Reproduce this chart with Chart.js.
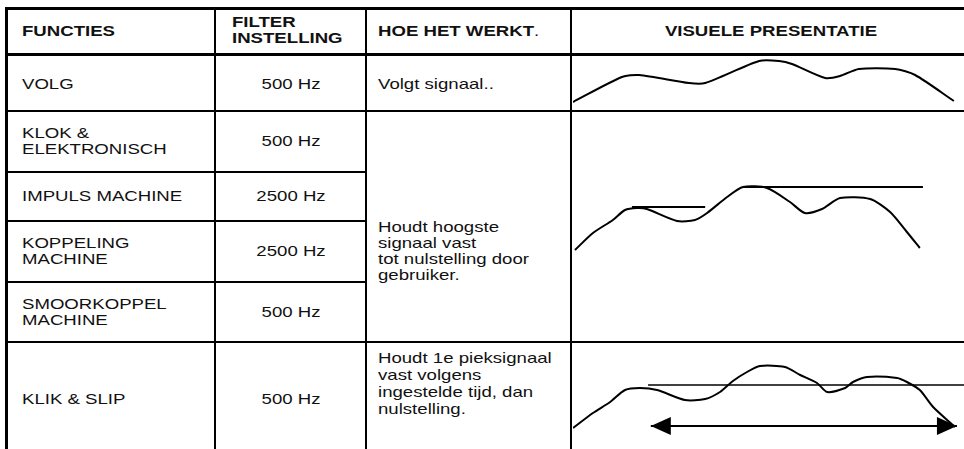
<!DOCTYPE html>
<html>
<head>
<meta charset="utf-8">
<script src="https://cdn.jsdelivr.net/npm/chart.js@4.4.0/dist/chart.umd.min.js"></script>
<style>
  html, body { margin: 0; padding: 0; background: #fff; }
  #page { position: relative; width: 964px; height: 449px; overflow: hidden; font-family: "Liberation Sans", Arial, sans-serif; color: #111; }
  .ln { position: absolute; background: #000; }
  .t { position: absolute; white-space: pre; font-size: 15px; line-height: 16px; transform-origin: left top; transform: translateY(-50%) scaleX(1.24); }
  .t.c { transform-origin: center center; transform: translate(-50%, -50%) scaleX(1.24); text-align: center; }
  .t.b { font-weight: bold; }
  canvas { position: absolute; }
</style>
</head>
<body>
<div id="page">
  <!-- grid -->
  <div class="ln" style="left:5px;top:7px;width:959px;height:3px"></div>
  <div class="ln" style="left:5px;top:53px;width:959px;height:3px"></div>
  <div class="ln" style="left:5px;top:7px;width:3px;height:442px"></div>
  <div class="ln" style="left:214px;top:7px;width:2px;height:442px"></div>
  <div class="ln" style="left:365px;top:7px;width:2px;height:442px"></div>
  <div class="ln" style="left:570px;top:7px;width:2px;height:442px"></div>
  <div class="ln" style="left:5px;top:110px;width:959px;height:2px"></div>
  <div class="ln" style="left:5px;top:171px;width:362px;height:2px"></div>
  <div class="ln" style="left:5px;top:220px;width:362px;height:2px"></div>
  <div class="ln" style="left:5px;top:281px;width:362px;height:2px"></div>
  <div class="ln" style="left:5px;top:341px;width:959px;height:2px"></div>

  <!-- header -->
  <div class="t b" style="left:22px;top:31px">FUNCTIES</div>
  <div class="t b" style="left:232px;top:30px">FILTER
INSTELLING</div>
  <div class="t b" style="left:378px;top:31px">HOE HET WERKT<span style="font-weight:normal">.</span></div>
  <div class="t b c" style="left:771px;top:31px">VISUELE PRESENTATIE</div>

  <!-- rows -->
  <div class="t" style="left:22px;top:84px">VOLG</div>
  <div class="t c" style="left:291px;top:84px">500 Hz</div>
  <div class="t" style="left:378px;top:84px">Volgt signaal..</div>

  <div class="t" style="left:22px;top:141px">KLOK &amp;
ELEKTRONISCH</div>
  <div class="t c" style="left:291px;top:141px">500 Hz</div>

  <div class="t" style="left:22px;top:196px">IMPULS MACHINE</div>
  <div class="t c" style="left:291px;top:196px">2500 Hz</div>

  <div class="t" style="left:22px;top:251px">KOPPELING
MACHINE</div>
  <div class="t c" style="left:291px;top:251px">2500 Hz</div>

  <div class="t" style="left:22px;top:312px">SMOORKOPPEL
MACHINE</div>
  <div class="t c" style="left:291px;top:312px">500 Hz</div>

  <div class="t" style="left:378px;top:251px">Houdt hoogste
signaal vast
tot nulstelling door
gebruiker.</div>

  <div class="t" style="left:22px;top:399px">KLIK &amp; SLIP</div>
  <div class="t c" style="left:291px;top:399px">500 Hz</div>
  <div class="t" style="left:378px;top:383px;line-height:17px">Houdt 1e pieksignaal
vast volgens
ingestelde tijd, dan
nulstelling.</div>

  <canvas id="volg" width="391" height="53" style="left:573px;top:57px"></canvas>
  <canvas id="hold" width="391" height="90" style="left:573px;top:170px"></canvas>
  <canvas id="klik" width="391" height="90" style="left:573px;top:350px"></canvas>
</div>

<script>
// signal sketches: t = time (0-100 across the cell), level = signal height
const volgT     = [0, 12.5, 16.9, 29.7, 33.8, 47.6, 52.7, 56.0, 64.5, 68.3, 73.1, 82.4, 87.5, 97.4];
const volgLevel = [1.6, 6.6, 7.0, 5.4, 5.4, 9.8, 9.8, 9.2, 6.4, 6.8, 8.2, 8.2, 7.0, 1.8];

const holdT     = [0.5, 5.1, 10.2, 13.3, 16.4, 18.9, 26.6, 31.2, 34.3, 39.4, 43.5, 49.6, 55.5, 59.3, 63.7, 68.3, 76.0, 81.1, 85.4, 88.7];
const holdLevel = [2.0, 5.4, 8.0, 10.0, 10.4, 10.2, 7.8, 8.0, 9.4, 12.6, 14.6, 14.4, 11.6, 9.4, 10.2, 12.4, 12.2, 9.6, 5.6, 2.4];
// held peaks: [start t, end t, level]
const holdPeaks = [[15.1, 33.8, 10.6], [43.5, 89.5, 14.6]];

const klikT     = [0, 5.1, 9.5, 13.3, 17.1, 21.5, 28.6, 33.8, 37.6, 40.9, 44.5, 47.8, 54.2, 58.1, 62.4, 65.0, 69.6, 71.6, 75.2, 82.9, 85.4, 88.7, 92.1, 97.7];
const klikLevel = [2.4, 5.4, 7.6, 10.0, 10.4, 10.0, 8.0, 8.2, 9.6, 11.8, 13.6, 14.8, 14.6, 13.0, 11.4, 9.6, 10.4, 11.6, 12.6, 12.4, 11.6, 10.0, 6.6, 2.6];
const klikPeak  = [19.2, 100, 11.0];     // first peak held
const klikTimer = [19.9, 98.2, 2.8];     // set time window (arrow)

const pts = (xs, ys) => xs.map((x, i) => ({ x: x, y: ys[i] }));
const seg = s => [{ x: s[0], y: s[2] }, { x: s[1], y: s[2] }];

// draws filled arrow heads on both ends of datasets marked arrows:true
const arrowHeads = {
  id: 'arrowHeads',
  afterDatasetsDraw(chart) {
    const ctx = chart.ctx;
    chart.data.datasets.forEach((ds, i) => {
      if (!ds.arrows) return;
      const els = chart.getDatasetMeta(i).data;
      const a = els[0], b = els[els.length - 1];
      ctx.save();
      ctx.fillStyle = '#000';
      [[a, 1], [b, -1]].forEach(([p, dir]) => {
        ctx.beginPath();
        ctx.moveTo(p.x, p.y);
        ctx.lineTo(p.x + dir * 20, p.y - 9);
        ctx.lineTo(p.x + dir * 20, p.y + 9);
        ctx.closePath();
        ctx.fill();
      });
      ctx.restore();
    });
  }
};

function sketch(id, maxLevel, datasets) {
  return new Chart(document.getElementById(id), {
    type: 'line',
    data: { datasets: datasets },
    options: {
      responsive: false,
      animation: false,
      layout: { padding: 0 },
      plugins: { legend: { display: false }, tooltip: { enabled: false } },
      elements: { point: { radius: 0 } },
      scales: {
        x: { type: 'linear', display: false, min: 0, max: 100 },
        y: { display: false, min: 0, max: maxLevel }
      }
    },
    plugins: [arrowHeads]
  });
}

const wave = (xs, ys) => ({ data: pts(xs, ys), borderColor: '#000', borderWidth: 2, tension: 0.25, clip: 4 });
const flat = (s, w) => ({ data: seg(s), borderColor: '#000', borderWidth: w, clip: 4 });

sketch('volg', 10.6, [wave(volgT, volgLevel)]);
sketch('hold', 18, [wave(holdT, holdLevel)].concat(holdPeaks.map(p => flat(p, 2))));
sketch('klik', 18, [
  wave(klikT, klikLevel),
  flat(klikPeak, 1.5),
  Object.assign(flat(klikTimer, 2), { arrows: true })
]);
</script>
</body>
</html>
